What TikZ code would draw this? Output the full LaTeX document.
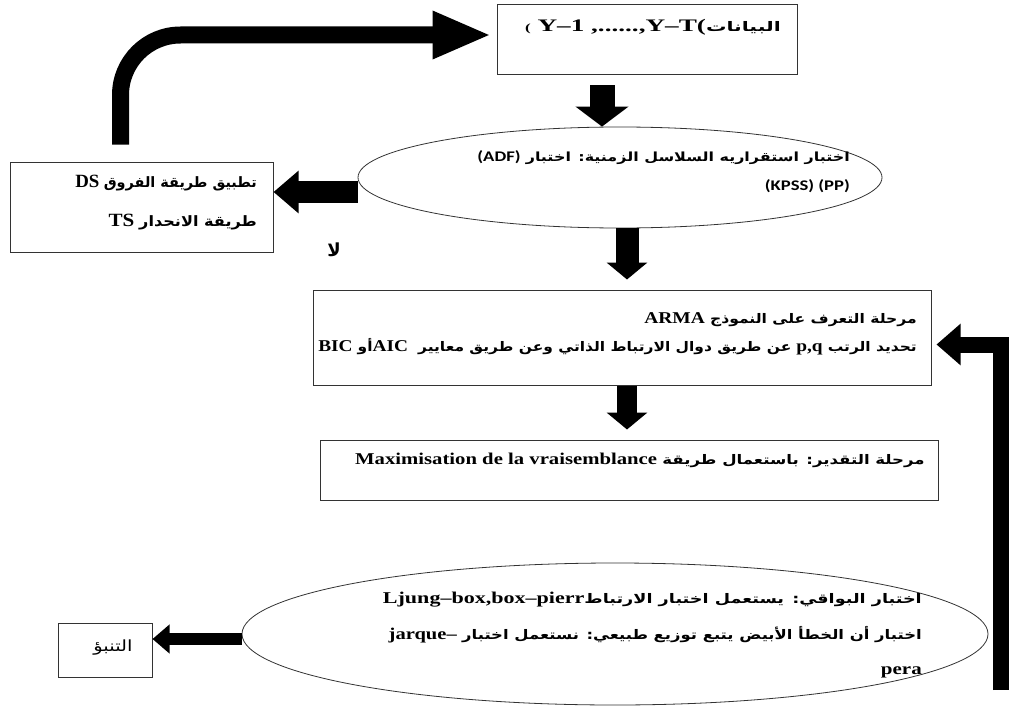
\documentclass[tikz,border=0pt]{standalone}
\usepackage{graphicx}
\usepackage{fontspec}
\usetikzlibrary{arrows.meta,shapes.geometric,calc}
\TeXXeTstate=1
\newfontfamily\arabicfont[Script=Arabic]{DejaVu Sans}
\newfontfamily\latfont{Liberation Serif}
\newfontfamily\calfont{Carlito}
\newcommand\artxt[1]{{\arabicfont\bfseries\beginR #1\endR}}
\newcommand\arreg[1]{{\arabicfont\beginR #1\endR}}
\newcommand\lattxt[1]{{\latfont\bfseries #1}}
\newcommand\caltxt[1]{{\calfont\bfseries #1}}
\newcommand\strx[2]{\scalebox{#1}[1.1]{#2}}
\begin{document}
\begin{tikzpicture}[x=1pt,y=-1pt,
  box/.style={draw=black!80, line width=1pt, inner sep=0pt},
  oval/.style={draw=black!80, line width=0.8pt, ellipse, inner sep=0pt},
  txt/.style={anchor=east, inner sep=0pt, font=\fontsize{12}{14}\selectfont},
  fat/.style n args={3}{line width=#1, -{Triangle[length=#2,width=#3]}}
]
\useasboundingbox (0,0) rectangle (1011,706);
\fill[white] (0,0) rectangle (1011,706);

% boxes
\node[box, minimum width=300pt, minimum height=70pt] (data) at (647,40) {};
\node[oval, minimum width=524pt, minimum height=101pt] (adf) at (620,177.5) {};
\node[box, minimum width=263pt, minimum height=90pt] (ds) at (141.5,207) {};
\node[box, minimum width=618pt, minimum height=95pt] (arma) at (622,337.5) {};
\node[box, minimum width=618pt, minimum height=60pt] (est) at (629,470) {};
\node[oval, minimum width=746pt, minimum height=142pt] (res) at (615,634) {};
\node[box, minimum width=94pt, minimum height=54pt] (pred) at (105,650) {};

% texts
\node[txt] (t1) at (781,27) {\strx{1.7}{{\latfont\bfseries\fontsize{10}{10}\selectfont(}\ \lattxt{\fontsize{16}{16}\selectfont Y–1 ,......,Y–T(}\artxt{البيانات}}};
\node[txt] (t2) at (850,158) {\scalebox{1.33}[1.05]{\caltxt{\fontsize{14}{14}\selectfont (ADF)} \artxt{اختبار استقراريه السلاسل الزمنية: اختبار}}};
\node[txt] (t3) at (850,186) {\scalebox{1.33}[1.05]{\caltxt{\fontsize{14}{14}\selectfont (KPSS) (PP)}}};
\node[txt] (t4) at (257,183) {\strx{1.11}{\lattxt{\fontsize{17}{17}\selectfont DS} \artxt{\fontsize{13}{15}\selectfont تطبيق طريقة الفروق}}};
\node[txt] (t5) at (257,222) {\strx{1.24}{\lattxt{\fontsize{17}{17}\selectfont TS} \artxt{\fontsize{13}{15}\selectfont طريقة الانحدار}}};
\node[anchor=center, inner sep=0pt] (no) at (334,250) {\artxt{\fontsize{18}{18}\selectfont لا}};
\node[txt] (t6) at (917,320) {\strx{1.3}{\lattxt{\fontsize{15}{15}\selectfont ARMA} \artxt{مرحلة التعرف على النموذج}}};
\node[txt] (t7) at (917,347) {\strx{1.29}{\lattxt{\fontsize{15}{15}\selectfont BIC} \artxt{أو}\lattxt{\fontsize{15}{15}\selectfont AIC}\ \ \artxt{عن طريق دوال الارتباط الذاتي وعن طريق معايير} \lattxt{\fontsize{15}{15}\selectfont p,q} \artxt{تحديد الرتب}}};
\node[txt] (t8) at (925,460) {\strx{1.38}{\lattxt{\fontsize{15}{15}\selectfont Maximisation de la vraisemblance} \artxt{مرحلة التقدير: باستعمال طريقة}}};
\node[txt] (t9) at (922,600) {\strx{1.47}{\lattxt{\fontsize{15}{15}\selectfont Ljung–box,box–pierr}\artxt{اختبار البواقي: يستعمل اختبار الارتباط}}};
\node[txt] (t10) at (922,635) {\strx{1.37}{\lattxt{\fontsize{15}{15}\selectfont jarque–} \artxt{اختبار أن الخطأ الأبيض يتبع توزيع طبيعي: نستعمل اختبار}}};
\node[txt] (t11) at (922,672) {\strx{1.4}{\lattxt{\fontsize{15}{15}\selectfont pera}}};
\node[anchor=center, inner sep=0pt] (t12) at (113,648) {\scalebox{1.4}[1.1]{\arreg{\fontsize{14}{16}\selectfont التنبؤ}}};

% arrows
\draw[fat={25pt}{20pt}{52pt}] ([xshift=-45pt,yshift=-10pt]data.south) -- ([xshift=-18pt]adf.north);
\draw[fat={23pt}{17pt}{40pt}] ([xshift=7pt]adf.south) -- ([xshift=5pt,yshift=10pt]arma.north);
\draw[fat={20pt}{17pt}{40pt}] ([xshift=5pt]arma.south) -- ([xshift=-2pt,yshift=10pt]est.north);
\draw[fat={22pt}{25pt}{41pt}] ([yshift=-14.5pt]adf.west) -- ([yshift=-14.5pt]adf.west -| ds.east);
\draw[fat={17pt}{59pt}{44pt}, rounded corners=60pt] ([xshift=111pt,yshift=17pt]ds.north west) |- ([xshift=-5pt,yshift=5pt]data.west);
\coordinate (fb) at (1001,690);
\draw[fat={16pt}{24pt}{40pt}] (fb) |- ([xshift=5pt,yshift=-7pt]arma.east);
\draw[fat={12pt}{17pt}{28pt}] ([yshift=-5pt]res.west) -- ([yshift=-5pt]res.west -| pred.east);
\end{tikzpicture}
\end{document}
